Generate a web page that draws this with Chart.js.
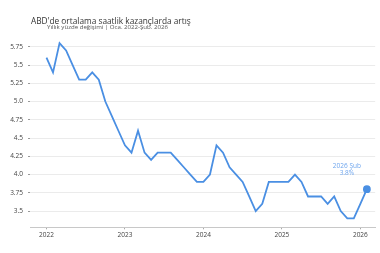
<!DOCTYPE html>
<html>
<head>
<meta charset="utf-8">
<script src="https://cdn.jsdelivr.net/npm/chart.js@4"></script>
<style>
  html, body { margin: 0; padding: 0; background: #fff; }
  #chart { display: block; }
</style>
</head>
<body>
<canvas id="chart" width="380" height="253"></canvas>
<script>
const titleText = "ABD'de ortalama saatlik kazançlarda artış";
const subtitleText = 'Yıllık yüzde değişimi | Oca. 2022-Şub. 2026';

// monthly values, Jan 2022 .. Feb 2026
const wageGrowth = [
    5.6, 5.4, 5.8, 5.7, 5.5, 5.3, 5.3, 5.4, 5.3, 5.0, 4.8, 4.6,
    4.4, 4.3, 4.6, 4.3, 4.2, 4.3, 4.3, 4.3, 4.2, 4.1, 4.0, 3.9,
    3.9, 4.0, 4.4, 4.3, 4.1, 4.0, 3.9, 3.7, 3.5, 3.6, 3.9, 3.9,
    3.9, 3.9, 4.0, 3.9, 3.7, 3.7, 3.7, 3.6, 3.7, 3.5, 3.4, 3.4,
    3.6, 3.8
];
const yearTicks = [0, 12, 24, 36, 48];
const yearLabels = ['2022', '2023', '2024', '2025', '2026'];
const yTicks = [3.5, 3.75, 4.0, 4.25, 4.5, 4.75, 5.0, 5.25, 5.5, 5.75];
const yTickLabels = ['3.5', '3.75', '4.0', '4.25', '4.5', '4.75', '5.0', '5.25', '5.5', '5.75'];
const lastLabel = '2026 Şub';
const lastValueLabel = '3.8%';

const FONT = '"Open Sans", "Noto Sans", sans-serif';
const BLUE = '#4a8fe3';

const points = wageGrowth.map((v, i) => ({ x: i, y: v }));

const textPlugin = {
    id: 'texts',
    afterDraw(chart) {
        const ctx = chart.ctx;
        ctx.save();
        ctx.textBaseline = 'alphabetic';
        ctx.fillStyle = '#333';
        ctx.font = `8.3px ${FONT}`;
        ctx.textAlign = 'left';
        ctx.fillText(titleText, 31, 24);
        ctx.fillStyle = '#555';
        ctx.font = `6.1px ${FONT}`;
        ctx.fillText(subtitleText, 47, 28.5);

        // label above the last point
        const meta = chart.getDatasetMeta(0);
        const last = meta.data[meta.data.length - 1];
        ctx.fillStyle = '#6fa6ee';
        ctx.textAlign = 'center';
        ctx.font = `6.5px ${FONT}`;
        ctx.fillText(lastLabel, last.x - 20, last.y - 21);
        ctx.fillText(lastValueLabel, last.x - 20, last.y - 14.5);
        ctx.restore();
    }
};

new Chart(document.getElementById('chart'), {
    type: 'line',
    data: {
        datasets: [{
            data: points,
            borderColor: BLUE,
            backgroundColor: BLUE,
            borderWidth: 1.8,
            tension: 0,
            pointRadius: points.map((p, i) => i === points.length - 1 ? 3 : 0),
            pointHoverRadius: 0
        }]
    },
    options: {
        responsive: false,
        animation: false,
        events: [],
        layout: { padding: { top: 38, left: 0, right: 0, bottom: 0 } },
        plugins: {
            legend: { display: false },
            tooltip: { enabled: false }
        },
        scales: {
            x: {
                type: 'linear',
                min: -2.52,
                max: 50.27,
                afterBuildTicks: (scale) => { scale.ticks = yearTicks.map(v => ({ value: v })); },
                afterFit: (scale) => { scale.height = 25.7; },
                grid: { drawOnChartArea: false, drawTicks: true, tickLength: 2, tickColor: '#aaa' },
                border: { display: true, color: '#c8c8c8', width: 1 },
                ticks: {
                    padding: 2,
                    color: '#444',
                    font: { family: FONT, size: 6.5 },
                    maxRotation: 0,
                    callback: (v) => yearLabels[yearTicks.indexOf(v)]
                }
            },
            y: {
                min: 3.278,
                max: 5.87,
                afterBuildTicks: (scale) => { scale.ticks = yTicks.map(v => ({ value: v })); },
                afterFit: (scale) => { scale.width = 30; },
                grid: { color: '#ebebeb', lineWidth: 1, drawTicks: true, tickLength: 2, tickColor: '#999' },
                border: { display: false },
                ticks: {
                    padding: 5,
                    color: '#444',
                    font: { family: FONT, size: 6.5 },
                    callback: (v) => yTickLabels[yTicks.indexOf(v)]
                }
            }
        }
    },
    plugins: [textPlugin]
});
</script>
</body>
</html>
